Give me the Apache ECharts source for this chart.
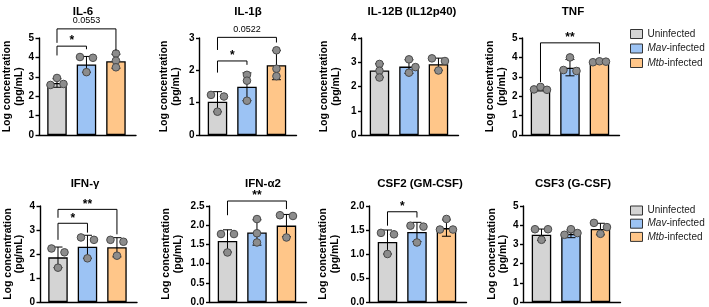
<!DOCTYPE html>
<html><head><meta charset="utf-8">
<script src="https://cdn.jsdelivr.net/npm/echarts/dist/echarts.min.js"></script>
<style>html,body{margin:0;padding:0;background:#fff}#c{width:709px;height:307px}</style>
</head><body><div id="c"></div>
<script>
// ---------------- DATA ----------------
const categories = ['Uninfected', 'Mav-infected', 'Mtb-infected'];
const panelTitles = ['IL-6', 'IL-1β', 'IL-12B (IL12p40)', 'TNF', 'IFN-γ', 'IFN-α2', 'CSF2 (GM-CSF)', 'CSF3 (G-CSF)'];
const yAxisMax = [5, 3, 4, 5, 4, 2.5, 2, 5];
const yAxisStep = [1, 1, 1, 1, 1, 0.5, 0.5, 1];
const yAxisDecimals = [0, 0, 0, 0, 0, 1, 1, 0];
const yAxisTitle = 'Log concentration\n(pg/mL)';
const barMeans = [
  [2.68, 3.64, 3.80], [1.03, 1.49, 2.16], [2.66, 2.82, 2.92], [2.35, 3.47, 3.77],
  [1.86, 2.30, 2.28], [1.59, 1.81, 1.99], [1.25, 1.46, 1.54], [3.50, 3.55, 3.80]
];
const barSD = [
  [0.22, 0.41, 0.36], [0.31, 0.43, 0.45], [0.28, 0.28, 0.25], [0.08, 0.42, 0.04],
  [0.43, 0.48, 0.40], [0.29, 0.33, 0.29], [0.25, 0.20, 0.17], [0.30, 0.20, 0.30]
];
const replicates = [
  [[2.58, 2.94, 2.63], [4.02, 3.24, 3.98], [4.20, 3.83, 3.49]],
  [[1.24, 0.72, 1.19], [1.86, 1.68, 1.06], [2.62, 2.05, 1.82]],
  [[2.93, 2.65, 2.37], [3.12, 2.80, 2.57], [3.16, 2.66, 3.05]],
  [[2.35, 2.48, 2.33], [3.35, 4.00, 3.30], [3.75, 3.80, 3.78]],
  [[2.23, 1.43, 2.07], [2.69, 1.82, 2.59], [2.59, 1.93, 2.51]],
  [[1.77, 1.29, 1.77], [2.16, 1.79, 1.55], [2.26, 1.68, 2.24]],
  [[1.44, 1.00, 1.41], [1.59, 1.24, 1.57], [1.51, 1.73, 1.51]],
  [[3.79, 3.24, 3.79], [3.50, 3.79, 3.59], [4.12, 3.55, 3.90]]
];
// significance brackets: [panel, fromGroup, toGroup, lineLevel, leftArmEnd, rightArmEnd, label]
const sigBrackets = [
  [0, 0, 1, 4.58, 4.10, 4.42, '*'],
  [0, 0, 2, 5.47, 4.75, 4.36, '0.0553'],
  [1, 0, 1, 2.29, 1.93, 2.17, '*'],
  [1, 0, 2, 3.02, 2.63, 2.86, '0.0522'],
  [3, 0, 2, 4.75, 2.73, 4.19, '**'],
  [4, 0, 1, 3.28, 2.59, 2.89, '*'],
  [4, 0, 2, 3.86, 3.51, 2.82, '**'],
  [5, 0, 2, 2.63, 2.26, 2.42, '**'],
  [6, 0, 1, 1.88, 1.59, 1.76, '*']
];

// ---------------- LAYOUT / STYLE ----------------
const pointSide = [
  [[-1, 0, 1], [-1, 0, 1], [0, 0, 0]],
  [[-1, 0, 1], [0, 0, 0], [0, 0, 0]],
  [[0, 0, 0], [0, 1, 0], [-1, 0, 1]],
  [[-1, 0, 1], [-1, 0, 1], [-1, 0, 1]],
  [[-1, 0, 1], [-1, 0, 1], [-1, 0, 1]],
  [[-1, 0, 1], [0, 0, 0], [-1, 0, 1]],
  [[-1, 0, 1], [-1, 0, 1], [-1, 0, 1]],
  [[-1, 0, 1], [-1, 0, 1], [-1, 0, 1]]
];
const gridLeft = [39, 199.5, 361.5, 522.5, 40, 209.5, 369.5, 523.5];
const gridTop = [38, 38, 38, 38, 206, 206, 206, 206];
const nameGaps = [14, 18, 20, 15, 15, 26, 29, 13];
const titleX = [83, 248, 412, 573, 85, 263, 420, 573];
const titleY = [12, 12, 12, 12, 183.5, 183.5, 183.5, 183.5];
const groupColors = ['#D4D4D4', '#9CC3F4', '#FFC689'];
const FONT = '"Liberation Sans", Arial, Helvetica, sans-serif';

const grid = [], xAxis = [], yAxis = [], series = [], graphic = [];
for (let p = 0; p < 8; p++) {
  grid.push({ left: gridLeft[p], top: gridTop[p], width: 97, height: 97 });
  xAxis.push({
    gridIndex: p, type: 'value', min: -0.61, max: 2.68,
    axisLine: { show: true, onZero: false, lineStyle: { color: '#000', width: 1.4 } },
    axisTick: { show: false }, axisLabel: { show: false }, splitLine: { show: false }
  });
  const dec = yAxisDecimals[p];
  yAxis.push({
    gridIndex: p, type: 'value', min: 0, max: yAxisMax[p], interval: yAxisStep[p],
    name: yAxisTitle, nameLocation: 'middle', nameRotate: 90, nameGap: nameGaps[p],
    nameTextStyle: { fontFamily: FONT, fontWeight: 'bold', fontSize: 10.5, lineHeight: 11.5, color: '#000' },
    axisLine: { show: true, onZero: false, lineStyle: { color: '#000', width: 1.4 } },
    axisTick: { show: true, length: 3.5, lineStyle: { color: '#000', width: 1.4 } },
    axisLabel: { margin: 5, fontFamily: FONT, fontWeight: 'bold', fontSize: 10, color: '#000',
      formatter: v => v.toFixed(dec) },
    splitLine: { show: false }
  });
  // bars (one series per group so the legend can show the three groups)
  for (let g = 0; g < 3; g++) {
    series.push({
      type: 'bar', name: categories[g], xAxisIndex: p, yAxisIndex: p,
      barWidth: 19.5, barGap: '-100%',
      itemStyle: { color: groupColors[g], borderColor: '#000', borderWidth: 1.3 },
      data: [[g, barMeans[p][g]]], z: 2
    });
  }
  // error bars (mean ± SD)
  const means = barMeans[p], sds = barSD[p];
  series.push({
    type: 'custom', xAxisIndex: p, yAxisIndex: p, z: 3, silent: true,
    data: means.map((m, g) => [g, m]),
    renderItem: (params, api) => {
      const g = params.dataIndex, m = means[g], s = sds[g];
      const t = api.coord([g, m + s]), b = api.coord([g, m - s]);
      const cx = t[0], hw = 4.5, st = { stroke: '#000', lineWidth: 1 };
      return { type: 'group', children: [
        { type: 'line', shape: { x1: cx, y1: t[1], x2: cx, y2: b[1] }, style: st },
        { type: 'line', shape: { x1: cx - hw, y1: t[1], x2: cx + hw, y2: t[1] }, style: st },
        { type: 'line', shape: { x1: cx - hw, y1: b[1], x2: cx + hw, y2: b[1] }, style: st }
      ] };
    }
  });
  // replicate points
  const pts = [], sides = [];
  replicates[p].forEach((vals, g) => vals.forEach((v, k) => { pts.push([g, v]); sides.push(pointSide[p][g][k]); }));
  series.push({
    type: 'custom', xAxisIndex: p, yAxisIndex: p, z: 4, silent: true, data: pts,
    renderItem: (params, api) => {
      const c = api.coord(pts[params.dataIndex]);
      return { type: 'circle', shape: { cx: c[0] + sides[params.dataIndex] * 6.5, cy: c[1], r: 3.8 },
        style: { fill: '#8C8C8C', stroke: '#4A4A4A', lineWidth: 1 } };
    }
  });
  graphic.push({ type: 'text', x: titleX[p], y: titleY[p],
    style: { text: panelTitles[p], font: 'bold 11.5px ' + FONT, fill: '#000', align: 'center', verticalAlign: 'middle' } });
}
// significance brackets
sigBrackets.forEach(br => {
  const [p, a, b, lvl, la, ra, label] = br;
  series.push({
    type: 'custom', xAxisIndex: p, yAxisIndex: p, z: 5, silent: true, clip: false,
    data: [[a, lvl]],
    renderItem: (params, api) => {
      const p1 = api.coord([a, la]);
      const p2 = api.coord([a, lvl]);
      const p3 = api.coord([b, lvl]);
      const p4 = api.coord([b, ra]);
      const isStar = label.indexOf('*') >= 0;
      return { type: 'group', children: [
        { type: 'polyline', shape: { points: [p1, p2, p3, p4] }, style: { stroke: '#000', lineWidth: 1, fill: null } },
        { type: 'text', x: (p2[0] + p3[0]) / 2, y: isStar ? p2[1] - 5 : p2[1] - 8,
          style: { text: label,
            font: isStar ? 'bold 12px ' + FONT : '9px ' + FONT, fill: '#000',
            align: 'center', verticalAlign: 'middle' } }
      ] };
    }
  });
});

const legendBase = {
  orient: 'vertical', left: 630, padding: 0, itemWidth: 12, itemHeight: 9,
  icon: 'rect', data: categories,
  itemStyle: { borderColor: '#333', borderWidth: 1 },
  textStyle: { fontFamily: FONT, fontSize: 10, color: '#222',
    rich: { i: { fontStyle: 'italic', fontFamily: FONT, fontSize: 10, color: '#222' } } },
  formatter: n => n.startsWith('Mav') ? '{i|Mav}-infected' : n.startsWith('Mtb') ? '{i|Mtb}-infected' : n
};
const legend = [
  Object.assign({}, legendBase, { top: 29, itemGap: 4.5 }),
  Object.assign({}, legendBase, { top: 205.5, itemGap: 3.2 })
];

const chart = echarts.init(document.getElementById('c'), null, { renderer: 'canvas' });
chart.setOption({ animation: false, backgroundColor: '#fff', grid, xAxis, yAxis, series, legend, graphic });
</script></body></html>
